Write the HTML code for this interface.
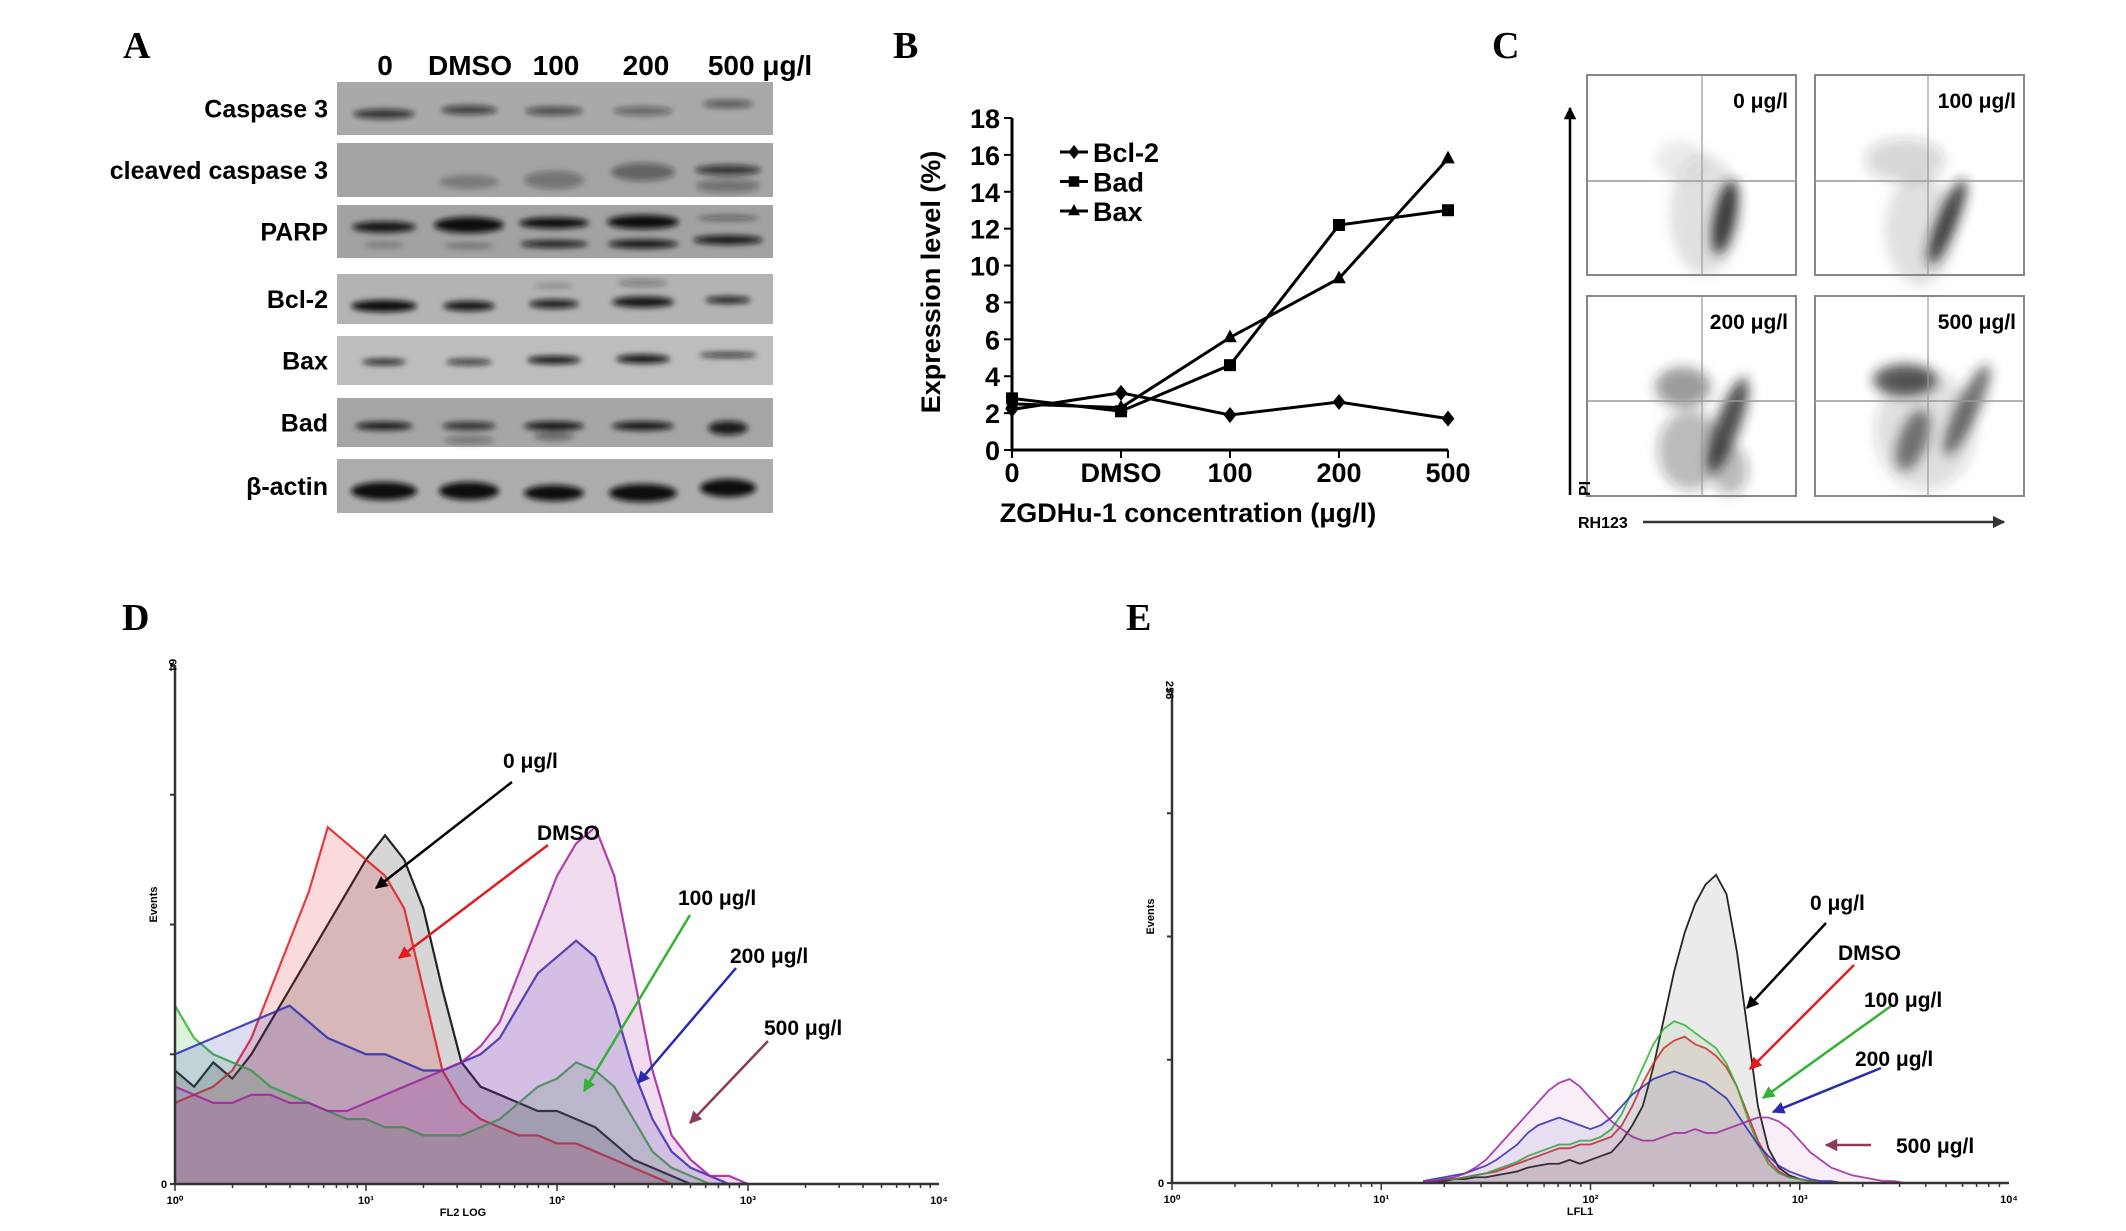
<!DOCTYPE html>
<html><head><meta charset="utf-8"><style>
html,body{margin:0;padding:0;background:#fff;}
svg{display:block;font-family:"Liberation Sans",sans-serif;}
</style></head><body>
<svg id="fig" width="2126" height="1231" viewBox="0 0 2126 1231" xmlns="http://www.w3.org/2000/svg">
<defs>
<filter id="blur3" x="-50%" y="-50%" width="200%" height="200%"><feGaussianBlur stdDeviation="3"/></filter>
<filter id="blur6" x="-50%" y="-50%" width="200%" height="200%"><feGaussianBlur stdDeviation="6"/></filter>
<marker id="ah" viewBox="0 0 10 10" refX="9" refY="5" markerWidth="5" markerHeight="5" orient="auto"><path d="M0,0 L10,5 L0,10 z" fill="context-stroke"/></marker>
</defs>

<g font-family="Liberation Serif, serif" font-weight="bold" font-size="38">
<text x="123" y="58">A</text>
<text x="893" y="58">B</text>
<text x="1492" y="58">C</text>
<text x="122" y="630">D</text>
<text x="1126" y="630">E</text>
</g>

<g id="panelA">
<g font-weight="bold" font-size="28" text-anchor="middle">
<text x="385" y="75">0</text><text x="470" y="75">DMSO</text><text x="556" y="75">100</text><text x="646" y="75">200</text><text x="760" y="75">500 μg/l</text>
</g>
<g id="blots"></g>
</g>

<g id="panelB"></g>
<g id="panelC"></g>
<g id="panelD"></g>
<g id="panelE"></g>
</svg>
<script>
const NS='http://www.w3.org/2000/svg';
function mk(parent,tag,attrs,text){const e=document.createElementNS(NS,tag);for(const k in attrs)e.setAttribute(k,attrs[k]);if(text!==undefined)e.textContent=text;parent.appendChild(e);return e;}

// ---------- Panel B data ----------
const bCategories=['0','DMSO','100','200','500'];
const bcl2Values=[2.2,3.1,1.9,2.6,1.7];
const badValues=[2.8,2.1,4.6,12.2,13.0];
const baxValues=[2.5,2.3,6.1,9.3,15.8];
const bYTicks=[0,2,4,6,8,10,12,14,16,18];

// ---------- Panel D data (log10 position 0..3 step 0.1, events) ----------
const dPositions=[0,0.1,0.2,0.3,0.4,0.5,0.6,0.7,0.8,0.9,1.0,1.1,1.2,1.3,1.4,1.5,1.6,1.7,1.8,1.9,2.0,2.1,2.2,2.3,2.4,2.5,2.6,2.7,2.8,2.9,3.0];
const dBlack=[14,12,15,13,16,20,24,28,32,36,40,43,40,34,24,15,12,11,10,9,9,8,7,5,3,2,1,0,0,0,0];
const dRed=[10,11,12,14,18,24,30,36,44,42,40,38,34,24,14,10,8,7,6,6,5,5,4,3,2,1,0,0,0,0,0];
const dGreen=[22,18,16,15,14,12,11,10,9,8,8,7,7,6,6,6,7,8,10,12,13,15,14,12,8,4,2,1,0,0,0];
const dBlue=[16,17,18,19,20,21,22,20,18,17,16,16,15,14,14,15,16,18,22,26,28,30,28,22,14,8,4,2,1,0,0];
const dPurple=[12,11,10,10,11,11,10,10,9,9,10,11,12,13,14,15,17,20,26,32,38,42,44,38,26,14,6,3,1,1,0];
const dLabels=['0 μg/l','DMSO','100 μg/l','200 μg/l','500 μg/l'];
const dXTickLabels=['10⁰','10¹','10²','10³','10⁴'];

// ---------- Panel E data (log10 position 1.2..3.6 step 0.05, events) ----------
const ePositions=[];for(let i=0;i<49;i++)ePositions.push(+(1.2+0.05*i).toFixed(2));
const eBlack=[0,1,1,2,2,3,3,4,5,6,8,9,10,10,12,10,12,14,16,22,30,40,60,85,110,130,145,155,160,150,120,80,40,18,8,4,2,1,0,0,0,0,0,0,0,0,0,0,0];
const eRed=[0,1,2,2,3,4,5,6,8,10,12,14,16,18,18,20,20,22,24,30,40,52,62,70,74,76,72,70,66,60,50,36,22,12,6,3,2,1,0,0,0,0,0,0,0,0,0,0,0];
const eGreen=[0,1,2,2,3,4,5,7,9,11,14,16,18,20,20,22,22,24,28,36,48,60,72,80,84,82,78,74,70,62,50,34,20,10,5,3,2,1,0,0,0,0,0,0,0,0,0,0,0];
const eBlue=[1,2,3,4,5,7,9,12,16,20,26,30,32,34,32,30,28,30,34,40,46,50,54,56,58,56,54,52,48,44,36,28,20,14,9,6,4,2,1,1,0,0,0,0,0,0,0,0,0];
const ePurple=[1,1,2,3,5,8,12,18,24,30,36,42,48,52,54,50,44,38,32,28,24,22,22,24,26,26,28,26,26,28,30,32,34,34,32,28,22,16,12,8,6,4,3,2,1,1,0,0,0];

// ---------- Panel A blots ----------
(function(){
 const g=document.getElementById('blots');
 const rows=[['Caspase 3',82,135,'#a9a9a9'],['cleaved caspase 3',143,197,'#a4a4a4'],['PARP',205,258,'#a2a2a2'],['Bcl-2',274,324,'#b3b3b3'],['Bax',336,385,'#bdbdbd'],['Bad',398,447,'#a6a6a6'],['β-actin',459,513,'#acacac']];
 const lanes=[384,469,554,643,728];
 rows.forEach((r,i)=>{
  const row=mk(g,'g',{});
  
  
  mk(row,'rect',{x:337,y:r[1],width:436,height:r[2]-r[1],fill:r[3]});
  const t=mk(row,'text',{x:328,y:(r[1]+r[2])/2+9,'text-anchor':'end','font-size':25,'font-weight':'bold'},r[0]);
  
  
 });
 const bands=[
  [0,114,62,10,.75],[1,110,56,9,.7],[2,111,58,9,.6],[3,111,60,9,.45],[4,104,50,8,.55],
  [1,182,60,14,.25],[2,180,60,18,.35],[3,172,64,18,.45],[4,170,66,10,.75],[4,186,64,14,.35],
  [0,227,64,11,.95],[1,225,70,16,1],[2,223,70,11,1],[2,244,68,7,.95],[3,222,72,14,1],[3,244,70,9,.95],[4,218,62,5,.5],[4,240,70,9,.95],[0,245,40,6,.25],[1,246,50,6,.3],
  [0,306,66,12,1],[1,306,52,10,.95],[2,304,50,9,.9],[3,302,62,11,.95],[4,300,46,7,.9],[2,286,40,6,.2],[3,283,50,7,.35],
  [0,362,44,6,.9],[1,362,46,6,.8],[2,360,54,8,.95],[3,359,54,9,.95],[4,355,58,5,.85],
  [0,426,58,8,.95],[1,426,54,8,.8],[2,426,60,9,.95],[3,426,62,9,.95],[4,428,40,14,.9],[1,440,50,8,.35],[2,436,40,8,.45],
  [0,491,66,18,1],[1,491,60,18,1],[2,493,60,16,1],[3,493,68,18,1],[4,488,56,18,1]
 ];
 const bg=mk(g,'g',{filter:'url(#blur3)'});
 
 
 bands.forEach(b=>{
  const e=mk(bg,'ellipse',{cx:lanes[b[0]],cy:b[1],rx:b[2]/2,ry:b[3]/2,fill:'#111','fill-opacity':b[4]});
  
  
 });
})();

// ---------- Panel B chart ----------
(function(){
 const g=document.getElementById('panelB');
 const x0=1012,xStep=109,yBase=450,yTop=118,yMax=18;
 const xs=i=>x0+i*xStep;
 const ys=v=>yBase-(v/yMax)*(yBase-yTop);
 const ax=mk(g,'path',{d:`M${x0},${yTop} V${yBase} H${xs(4)}`,stroke:'#000','stroke-width':3,fill:'none'});
 
 
 bYTicks.forEach(v=>{
  mk(g,'line',{x1:x0-8,x2:x0,y1:ys(v),y2:ys(v),stroke:'#000','stroke-width':2});
  const t=mk(g,'text',{x:x0-12,y:ys(v)+10,'text-anchor':'end','font-size':27,'font-weight':'bold'},v);
  
  
 });
 bCategories.forEach((c,i)=>{
  mk(g,'line',{x1:xs(i),x2:xs(i),y1:yBase,y2:yBase+8,stroke:'#000','stroke-width':2});
  const t=mk(g,'text',{x:xs(i),y:482,'text-anchor':'middle','font-size':27,'font-weight':'bold'},c);
  
  
 });
 const yl=mk(g,'text',{x:0,y:0,transform:'translate(940,282) rotate(-90)','text-anchor':'middle','font-size':27,'font-weight':'bold'},'Expression level (%)');
 
 
 const xl=mk(g,'text',{x:1188,y:522,'text-anchor':'middle','font-size':27,'font-weight':'bold'},'ZGDHu-1 concentration (μg/l)');
 
 
 const series=[['Bcl-2',bcl2Values,'diamond'],['Bad',badValues,'square'],['Bax',baxValues,'triangle']];
 function marker(p,x,y,type,s){
  if(type==='diamond')return mk(p,'path',{d:`M${x},${y-s} L${x+s*.8},${y} L${x},${y+s} L${x-s*.8},${y} Z`,fill:'#000'});
  if(type==='square')return mk(p,'rect',{x:x-s*.75,y:y-s*.75,width:s*1.5,height:s*1.5,fill:'#000'});
  return mk(p,'path',{d:`M${x},${y-s} L${x+s*.85},${y+s*.6} L${x-s*.85},${y+s*.6} Z`,fill:'#000'});
 }
 series.forEach((s,si)=>{
  const sg=mk(g,'g',{});
  
  
  mk(sg,'polyline',{points:s[1].map((v,i)=>xs(i)+','+ys(v)).join(' '),fill:'none',stroke:'#000','stroke-width':3});
  s[1].forEach((v,i)=>{const m=marker(sg,xs(i),ys(v),s[2],8);
   
   });
  const ly=152+si*29.5;
  const lg=mk(g,'g',{});
  
  
  mk(lg,'line',{x1:1060,x2:1088,y1:ly,y2:ly,stroke:'#000','stroke-width':3});
  marker(lg,1074,ly,s[2],7);
  mk(lg,'text',{x:1093,y:ly+10,'font-size':27,'font-weight':'bold'},s[0]);
 });
})();

// ---------- Panel C dot plots ----------
(function(){
 const g=document.getElementById('panelC');
 const boxes=[[1587,75,'0 μg/l',1702,181],[1815,75,'100 μg/l',1928,181],[1587,296,'200 μg/l',1702,401],[1815,296,'500 μg/l',1928,401]];
 const clusters=[
  [[1725,217,11,38,12,.9],[1705,215,35,60,0,.12],[1680,160,25,20,0,.08]],
  [[1947,222,10,46,22,.85],[1905,160,40,22,0,.18],[1920,230,35,55,0,.12]],
  [[1683,387,28,20,0,.45],[1728,425,12,50,20,.8],[1690,450,32,40,0,.3],[1730,470,18,25,0,.3]],
  [[1905,380,32,16,0,.75],[1913,440,14,32,20,.6],[1967,410,11,50,25,.65],[1925,430,50,60,0,.15]]
 ];
 boxes.forEach((b,i)=>{
  const bg=mk(g,'g',{});
  
  
  const cg=mk(bg,'g',{filter:'url(#blur6)'});
  clusters[i].forEach(c=>mk(cg,'ellipse',{cx:c[0],cy:c[1],rx:c[2],ry:c[3],transform:`rotate(${c[4]} ${c[0]} ${c[1]})`,fill:'#222','fill-opacity':c[5]}));
  mk(bg,'rect',{x:b[0],y:b[1],width:209,height:200,fill:'none',stroke:'#888','stroke-width':2});
  mk(bg,'line',{x1:b[3],x2:b[3],y1:b[1],y2:b[1]+200,stroke:'#999','stroke-width':1.2});
  mk(bg,'line',{x1:b[0],x2:b[0]+209,y1:b[4],y2:b[4],stroke:'#999','stroke-width':1.5});
  const t=mk(bg,'text',{x:b[0]+201,y:b[1]+33,'text-anchor':'end','font-size':21,'font-weight':'bold'},b[2]);
  
  
 });
 const ya=mk(g,'line',{x1:1570,x2:1570,y1:495,y2:108,stroke:'#000','stroke-width':2.5,'marker-end':'url(#ah)'});
 
 
 const yl=mk(g,'text',{x:0,y:0,transform:'translate(1590,496) rotate(-90)','font-size':16,'font-weight':'bold'},'PI');
 
 
 const xa=mk(g,'line',{x1:1643,x2:2004,y1:522,y2:522,stroke:'#333','stroke-width':2.5,'marker-end':'url(#ah)'});
 
 
 const xl=mk(g,'text',{x:1578,y:528,'font-size':16,'font-weight':'bold'},'RH123');
 
 
})();

// ---------- Histograms ----------
const colors=['#000000','#e01b22','#33b233','#2a2ab0','#a0229e'];
function histogram(gid,cfg,positions,series,arrows){
 const g=document.getElementById(gid);
 const xs=p=>cfg.x0+(p/4)*(cfg.x1-cfg.x0);
 const ys=v=>cfg.yb-(v/cfg.ymax)*(cfg.yb-cfg.yt);
 series.forEach((s,si)=>{
  const sg=mk(g,'g',{});
  
  
  const pts=positions.map((p,i)=>xs(p)+','+ys(s[i]));
  mk(sg,'polygon',{points:xs(positions[0])+','+cfg.yb+' '+pts.join(' ')+' '+xs(positions[positions.length-1])+','+cfg.yb,fill:colors[si],'fill-opacity':cfg.fillOp,stroke:'none'});
  mk(sg,'polyline',{points:pts.join(' '),fill:'none',stroke:colors[si],'stroke-width':cfg.sw,'stroke-opacity':.85});
 });
 const ax=mk(g,'path',{d:`M${cfg.x0},${cfg.yt} V${cfg.yb} H${cfg.x1}`,stroke:'#333','stroke-width':2.5,fill:'none'});
 
 
 for(let k=0;k<=4;k++){
  mk(g,'line',{x1:cfg.x0-5,x2:cfg.x0,y1:cfg.yt+k*(cfg.yb-cfg.yt)/4,y2:cfg.yt+k*(cfg.yb-cfg.yt)/4,stroke:'#333','stroke-width':2});
 }
 for(let d=0;d<4;d++){for(let m=1;m<10;m++){const x=xs(d+Math.log10(m));mk(g,'line',{x1:x,x2:x,y1:cfg.yb,y2:cfg.yb+(m===1?7:4),stroke:'#333','stroke-width':1.5});}}
 dXTickLabels.forEach((l,i)=>{const t=mk(g,'text',{x:xs(i),y:cfg.yb+20,'text-anchor':'middle','font-size':11,'font-weight':'bold'},l);
  
  });
 const tt=mk(g,'text',{x:0,y:0,transform:`translate(${cfg.x0-6},${cfg.yt}) rotate(90)`,'font-size':11,'font-weight':'bold','text-anchor':'middle'},cfg.topLabel);
 
 
 const zl=mk(g,'text',{x:cfg.x0-14,y:cfg.yb+4,'font-size':11,'font-weight':'bold'},'0');
 
 
 const yl=mk(g,'text',{x:0,y:0,transform:`translate(${cfg.x0-18},${(cfg.yt+cfg.yb)/2-20}) rotate(-90)`,'font-size':11,'font-weight':'bold','text-anchor':'middle'},'Events');
 
 
 const xl=mk(g,'text',{x:cfg.xTitleX,y:cfg.yb+32,'text-anchor':'middle','font-size':11,'font-weight':'bold'},cfg.xTitle);
 
 
 arrows.forEach((a,i)=>{
  const ag=mk(g,'g',{});
  
  
  mk(ag,'line',{x1:a[2],y1:a[3],x2:a[4],y2:a[5],stroke:a[6]||colors[i],'stroke-width':2.5,'marker-end':'url(#ah)'});
  mk(ag,'text',{x:a[0],y:a[1],'font-size':21,'font-weight':'bold'},dLabels[i]);
 });
}
histogram('panelD',{x0:175,x1:939,yt:665,yb:1184,ymax:64,sw:2.2,fillOp:.16,topLabel:'64',xTitle:'FL2 LOG',xTitleX:463},
 dPositions,[dBlack,dRed,dGreen,dBlue,dPurple],
 [[503,768,512,782,376,888],[537,840,548,845,399,958],[678,905,690,915,584,1091],[730,963,736,968,638,1083],[764,1035,768,1041,690,1123,'#8a3a5a']]);
histogram('panelE',{x0:1172,x1:2009,yt:690,yb:1183,ymax:256,sw:1.8,fillOp:.08,topLabel:'256',xTitle:'LFL1',xTitleX:1580},
 ePositions,[eBlack,eRed,eGreen,eBlue,ePurple],
 [[1810,910,1826,923,1747,1008],[1838,960,1854,965,1750,1069],[1864,1007,1891,1006,1763,1098],[1855,1066,1881,1068,1773,1112],[1896,1153,1871,1145,1826,1145,'#8a3a5a']]);
</script>
</body></html>
